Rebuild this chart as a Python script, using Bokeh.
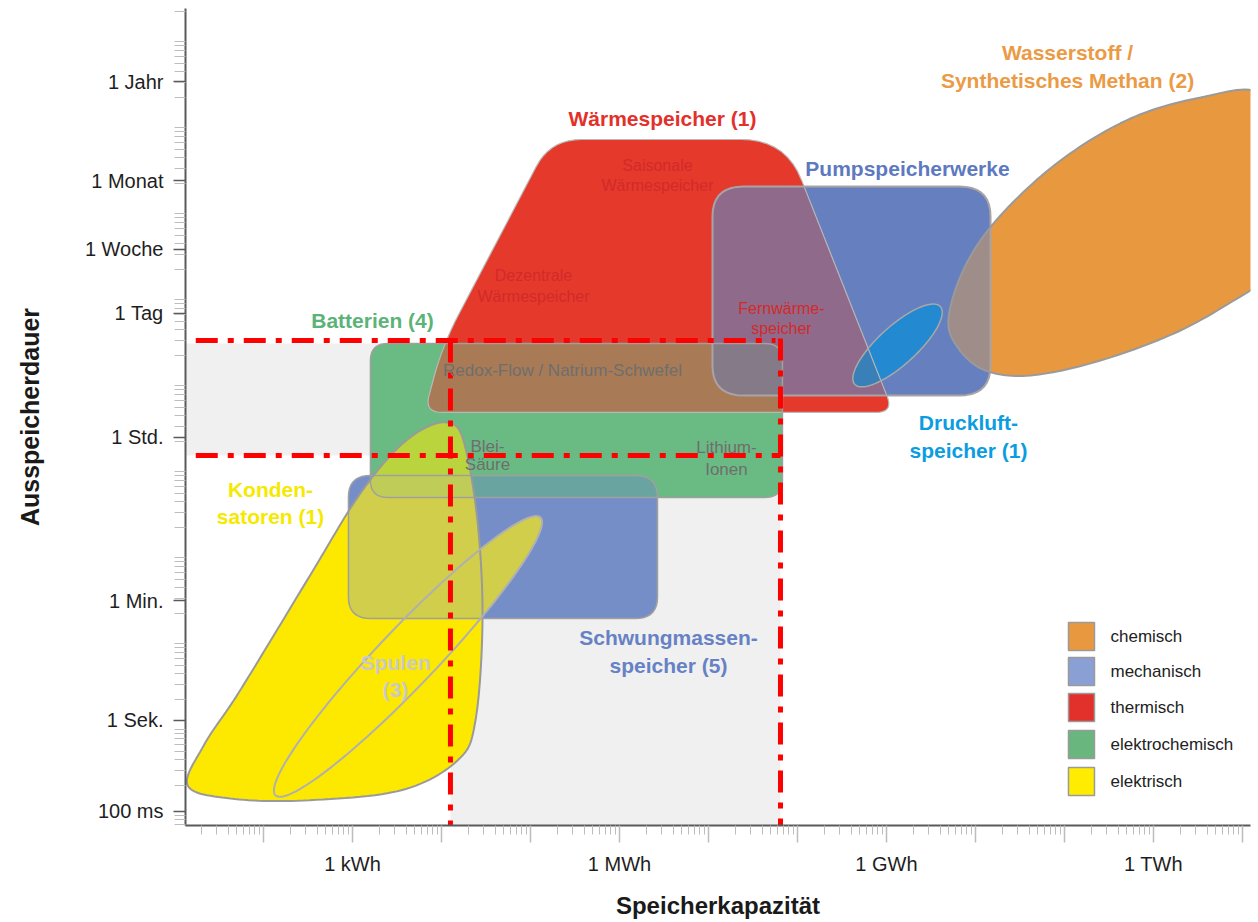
import numpy as np
from bokeh.plotting import figure
from bokeh.models import Range1d, FixedTicker
from bokeh.core.properties import value
from bokeh.embed import file_html
from bokeh.resources import INLINE

FONT = "Liberation Sans"

# ---------------- axes ----------------
# x: storage capacity, log10(Wh); y: discharge duration on the chart's log-like scale
cap_major = [1, 2, 3, 4, 5, 6, 7, 8, 9, 10, 11, 12, 13]
cap_tick_values = [3, 6, 9, 12]
cap_tick_labels = ["1 kWh", "1 MWh", "1 GWh", "1 TWh"]
dur_tick_values = [-1.0, 0.058, 1.453, 3.349, 4.791, 5.535, 6.337, 7.488]
dur_tick_labels = ["100 ms", "1 Sek.", "1 Min.", "1 Std.", "1 Tag", "1 Woche", "1 Monat", "1 Jahr"]

# ---------------- storage ranges (log10 Wh, duration scale) ----------------
waerme_x = [5.225, 7.865, 9.079, 3.809, 4.011]      # Wärmespeicher (trapezoid)
waerme_y = [6.814, 6.814, 3.640, 3.640, 4.419]
batt_box = [3.202, 7.831, 2.651, 4.442]             # Batterien  x0, x1, y0, y1
pump_box = [7.045, 10.169, 3.837, 6.267]            # Pumpspeicherwerke
schwung_box = [2.955, 6.427, 1.244, 2.907]          # Schwungmassenspeicher
h2_x = [9.697, 9.888, 10.281, 10.955, 11.742, 12.528, 13.202, 13.652, 13.652,
        13.090, 12.303, 11.404, 10.618, 10.112, 9.809]   # Wasserstoff / Methan
h2_y = [4.733, 5.349, 5.930, 6.570, 7.058, 7.302, 7.360, 6.802, 5.407,
        5.058, 4.593, 4.244, 4.070, 4.128, 4.384]
kond_x = [1.150, 1.629, 2.449, 3.539, 4.180, 4.382, 4.461, 4.404, 4.247, 4.067,
          3.764, 3.427, 3.034, 2.584, 2.135, 1.690, 1.330]      # Kondensatoren
kond_y = [-0.700, -0.849, -0.872, -0.756, -0.407, 0.058, 1.221, 2.384, 3.314, 3.523,
          3.430, 3.140, 2.616, 1.849, 1.081, 0.330, -0.230]
spulen_ell = [3.624, 0.803, 2.197, 0.33, 47.4]      # cx, cy, a, b, angle
druck_ell = [9.124, 4.419, 0.66, 0.22, 43.5]

# relevant range (grey area + red dash-dot frame)
band_h = [0.70, 7.809, 3.140, 4.442]
band_v = [4.101, 7.809, -1.50, 4.442]
line_x0 = [0.70, 0.70, 4.101, 7.809]
line_x1 = [7.753, 7.809, 4.101, 7.809]
line_y0 = [4.477, 3.140, 4.477, 4.50]
line_y1 = [4.477, 3.140, -1.50, -1.50]

legend_names = ["chemisch", "mechanisch", "thermisch", "elektrochemisch", "elektrisch"]
legend_colors = ["#e8983f", "#8a9fd4", "#e2302a", "#69b77e", "#ffec00"]
# legend layout (placement only)
leg_sq_x, leg_txt_x = 11.191, 11.517
leg_rows = [1.035, 0.628, 0.209, -0.221, -0.651]


# ---------------- geometry helpers ----------------
def rounded_poly(xs, ys, radii, n=10):
    m = len(xs)
    if np.isscalar(radii):
        radii = [radii] * m
    ox, oy = [], []
    for i in range(m):
        p0 = np.array([xs[i - 1], ys[i - 1]], float)
        p1 = np.array([xs[i], ys[i]], float)
        p2 = np.array([xs[(i + 1) % m], ys[(i + 1) % m]], float)
        d0, d2 = p0 - p1, p2 - p1
        l0, l2 = np.hypot(*d0), np.hypot(*d2)
        r = min(radii[i], l0 / 2.01, l2 / 2.01)
        a, b = p1 + d0 / l0 * r, p1 + d2 / l2 * r
        for t in np.linspace(0, 1, n):
            q = (1 - t) ** 2 * a + 2 * (1 - t) * t * p1 + t ** 2 * b
            ox.append(float(q[0])); oy.append(float(q[1]))
    return ox, oy


def box_poly(box, r):
    x0, x1, y0, y1 = box
    return rounded_poly([x0, x1, x1, x0], [y0, y0, y1, y1], r)


def smooth_closed(xs, ys, n=14):
    P = np.column_stack([xs, ys]).astype(float)
    m = len(P)
    out = []
    for i in range(m):
        p0, p1, p2, p3 = P[i - 1], P[i], P[(i + 1) % m], P[(i + 2) % m]
        for t in np.linspace(0, 1, n, endpoint=False):
            t2, t3 = t * t, t * t * t
            q = 0.5 * (2 * p1 + (-p0 + p2) * t + (2 * p0 - 5 * p1 + 4 * p2 - p3) * t2
                       + (-p0 + 3 * p1 - 3 * p2 + p3) * t3)
            out.append(q)
    out = np.array(out)
    return list(out[:, 0]), list(out[:, 1])


def ellipse_poly(e, n=120):
    cx, cy, a, b, ang = e
    t = np.linspace(0, 2 * np.pi, n, endpoint=False)
    th = np.radians(ang)
    x = cx + a * np.cos(t) * np.cos(th) - b * np.sin(t) * np.sin(th)
    y = cy + a * np.cos(t) * np.sin(th) + b * np.sin(t) * np.cos(th)
    return list(x), list(y)


def clip(subject, clipper):
    cx, cy = clipper
    C = []
    for p in zip(cx, cy):
        if not C or abs(p[0] - C[-1][0]) > 1e-9 or abs(p[1] - C[-1][1]) > 1e-9:
            C.append(p)
    area = sum(C[i - 1][0] * C[i][1] - C[i][0] * C[i - 1][1] for i in range(len(C)))
    sg = 1 if area > 0 else -1
    out = list(zip(subject[0], subject[1]))
    for i in range(len(C)):
        A, B = C[i - 1], C[i]
        inp, out = out, []
        if not inp:
            break

        def inside(P):
            return sg * ((B[0] - A[0]) * (P[1] - A[1]) - (B[1] - A[1]) * (P[0] - A[0])) >= 0

        def inter(P, Q):
            x1, y1 = A; x2, y2 = B; x3, y3 = P; x4, y4 = Q
            den = (x1 - x2) * (y3 - y4) - (y1 - y2) * (x3 - x4)
            if abs(den) < 1e-12:
                return Q
            t = ((x1 - x3) * (y3 - y4) - (y1 - y3) * (x3 - x4)) / den
            return (x1 + t * (x2 - x1), y1 + t * (y2 - y1))

        S = inp[-1]
        for E in inp:
            if inside(E):
                if not inside(S):
                    out.append(inter(S, E))
                out.append(E)
            elif inside(S):
                out.append(inter(S, E))
            S = E
    return [p[0] for p in out], [p[1] for p in out]


# ---------------- shapes ----------------
RED = rounded_poly(waerme_x, waerme_y, [0.35, 0.5, 0.2, 0.2, 0.6])
GREEN = box_poly(batt_box, 0.2)
PUMP = box_poly(pump_box, 0.35)
SCHW = box_poly(schwung_box, 0.25)
ORANGE = smooth_closed(h2_x, h2_y)
YELLOW = smooth_closed(kond_x, kond_y)
SPULEN = ellipse_poly(spulen_ell)
DRUCK = ellipse_poly(druck_ell)

p = figure(width=1258, height=922, output_backend="svg", toolbar_location=None,
           x_range=Range1d(1.124, 13.09), y_range=Range1d(-1.163, 8.337),
           min_border_left=185, min_border_right=8, min_border_top=8, min_border_bottom=97)
p.outline_line_color = None
p.xgrid.visible = False
p.ygrid.visible = False


def fill(poly, color):
    if len(poly[0]) > 2:
        p.patch(poly[0], poly[1], fill_color=color, line_color=None)


def outline(poly, color="#a4a4a4", width=1.5):
    p.patch(poly[0], poly[1], fill_alpha=0, line_color=color, line_width=width)


# grey relevant-range area
p.quad(left=[band_h[0], band_v[0]], right=[band_h[1], band_v[1]],
       bottom=[band_h[2], band_v[2]], top=[band_h[3], band_v[3]],
       fill_color="#f0f0f0", line_color=None)

fill(RED, "#e5392b")
fill(GREEN, "#6aba83")
RG = clip(RED, GREEN)
fill(RG, "#a87b56")
fill(PUMP, "#667fbf")
fill(clip(RED, PUMP), "#8f6a8b")
fill(clip(RG, PUMP), "#857a87")
fill(SCHW, "#758ec8")
fill(clip(GREEN, SCHW), "#6aa4a0")
fill(ORANGE, "#e8983f")
fill(clip(ORANGE, PUMP), "#9e8d89")
fill(YELLOW, "#fde800")
YG = clip(YELLOW, GREEN)
fill(YG, "#b9d43c")
fill(clip(YELLOW, SCHW), "#d0ce4a")
fill(clip(YG, SCHW), "#c0cc58")
fill(SPULEN, "#fde800")
fill(clip(SPULEN, SCHW), "#d0ce4a")
fill(DRUCK, "#2389d0")
fill(clip(DRUCK, RED), "#3a80b8")

outline(RED, "#b8b8b8", 1.2)
outline(GREEN, "#a0a0a0", 1.5)
outline(PUMP, "#a9a3a6", 2)
outline(SCHW, "#a0a0a0", 1.5)
outline(ORANGE, "#9a9a9a", 2)
outline(YELLOW, "#9a9a9a", 2)
outline(SPULEN, "#b0b0b0", 2)
outline(DRUCK, "#a8a8a8", 1.5)

# red dash-dot frame
p.segment(x0=line_x0, y0=line_y0, x1=line_x1, y1=line_y1,
          line_color="#ff0000", line_width=5, line_dash="22 10 6 10")

# ---------------- labels ----------------
big_text = ["Wärmespeicher (1)", "Wasserstoff /", "Synthetisches Methan (2)", "Pumpspeicherwerke",
            "Batterien (4)", "Druckluft-", "speicher (1)", "Konden-", "satoren (1)",
            "Spulen", "(3)", "Schwungmassen-", "speicher (5)"]
big_x = [6.483, 11.034, 11.034, 9.236, 3.225, 9.921, 9.921, 2.079, 2.079, 3.483, 3.483, 6.551, 6.551]
big_y = [7.058, 7.826, 7.500, 6.477, 4.709, 3.523, 3.198, 2.744, 2.430, 0.733, 0.419, 1.023, 0.698]
big_col = ["#e3302a", "#eb9a45", "#eb9a45", "#5d79c0", "#5cb377", "#0b9de0", "#0b9de0",
           "#f6e900", "#f6e900", "#c9c9c9", "#c9c9c9", "#6682c4", "#6682c4"]
p.text(x=big_x, y=big_y, text=big_text, text_color=big_col, text_font=value(FONT),
       text_font_style="bold", text_font_size=value("21px"),
       text_align="center", text_baseline="middle")

red_text = ["Saisonale", "Wärmespeicher", "Dezentrale", "Wärmespeicher", "Fernwärme-", "speicher"]
red_x = [6.427, 6.427, 5.034, 5.034, 7.820, 7.820]
red_y = [6.512, 6.279, 5.233, 4.988, 4.849, 4.616]
p.text(x=red_x, y=red_y, text=red_text, text_color="#d22a2a", text_font=value(FONT),
       text_font_size=value("16px"), text_align="center", text_baseline="middle")

grey_text = ["Redox-Flow / Natrium-Schwefel", "Blei-", "Säure", "Lithium-", "Ionen"]
grey_x = [5.360, 4.517, 4.517, 7.202, 7.202]
grey_y = [4.128, 3.244, 3.035, 3.233, 2.977]
p.text(x=grey_x, y=grey_y, text=grey_text, text_color="#6e6e6e", text_font=value(FONT),
       text_font_size=value("17px"), text_align="center", text_baseline="middle")

# ---------------- legend (drawn as marks) ----------------
p.rect(x=[leg_sq_x] * len(legend_names), y=leg_rows, width=26, height=28,
       width_units="screen", height_units="screen",
       fill_color=legend_colors, line_color="#9a9a9a", line_width=1.5)
p.text(x=[leg_txt_x] * len(legend_names), y=leg_rows, text=legend_names,
       text_color="#222222", text_font=value(FONT), text_font_size=value("17px"),
       text_align="left", text_baseline="middle")

# ---------------- axes styling ----------------
x_minor = [n + np.log10(k) for n in range(0, 14) for k in range(2, 10)]
y_minor = [n + np.log10(k) for n in range(-2, 9) for k in range(2, 10)]

xa = p.xaxis[0]
xa.ticker = FixedTicker(ticks=cap_major, minor_ticks=x_minor)
xa.major_label_overrides = {t: (cap_tick_labels[cap_tick_values.index(t)] if t in cap_tick_values else "")
                            for t in cap_major}
xa.axis_label = "Speicherkapazität"
ya = p.yaxis[0]
ya.ticker = FixedTicker(ticks=dur_tick_values, minor_ticks=y_minor)
ya.major_label_overrides = dict(zip(dur_tick_values, dur_tick_labels))
ya.axis_label = "Ausspeicherdauer"

for ax in (xa, ya):
    ax.axis_line_color = "#5a5a5a"
    ax.axis_line_width = 2
    ax.major_label_text_font = FONT
    ax.major_label_text_font_size = "20px"
    ax.major_label_text_color = "#1e1e1e"
    ax.axis_label_text_font = FONT
    ax.axis_label_text_font_style = "bold"
    ax.axis_label_text_color = "#1a1a1a"
    ax.major_tick_in = 0
    ax.minor_tick_in = 0
    ax.minor_tick_line_color = "#bdbdbd"

xa.major_tick_out = 17
xa.major_tick_line_color = "#bdbdbd"
xa.major_tick_line_width = 1.5
xa.minor_tick_out = 9
xa.major_label_standoff = 10
xa.axis_label_text_font_size = "24px"
xa.axis_label_standoff = 14

ya.major_tick_out = 12
ya.major_tick_line_color = "#5a5a5a"
ya.major_tick_line_width = 1.5
ya.minor_tick_out = 11
ya.major_label_standoff = 10
ya.axis_label_text_font_size = "25px"
ya.axis_label_standoff = 38

open("out.html", "w").write(file_html(p, INLINE))
